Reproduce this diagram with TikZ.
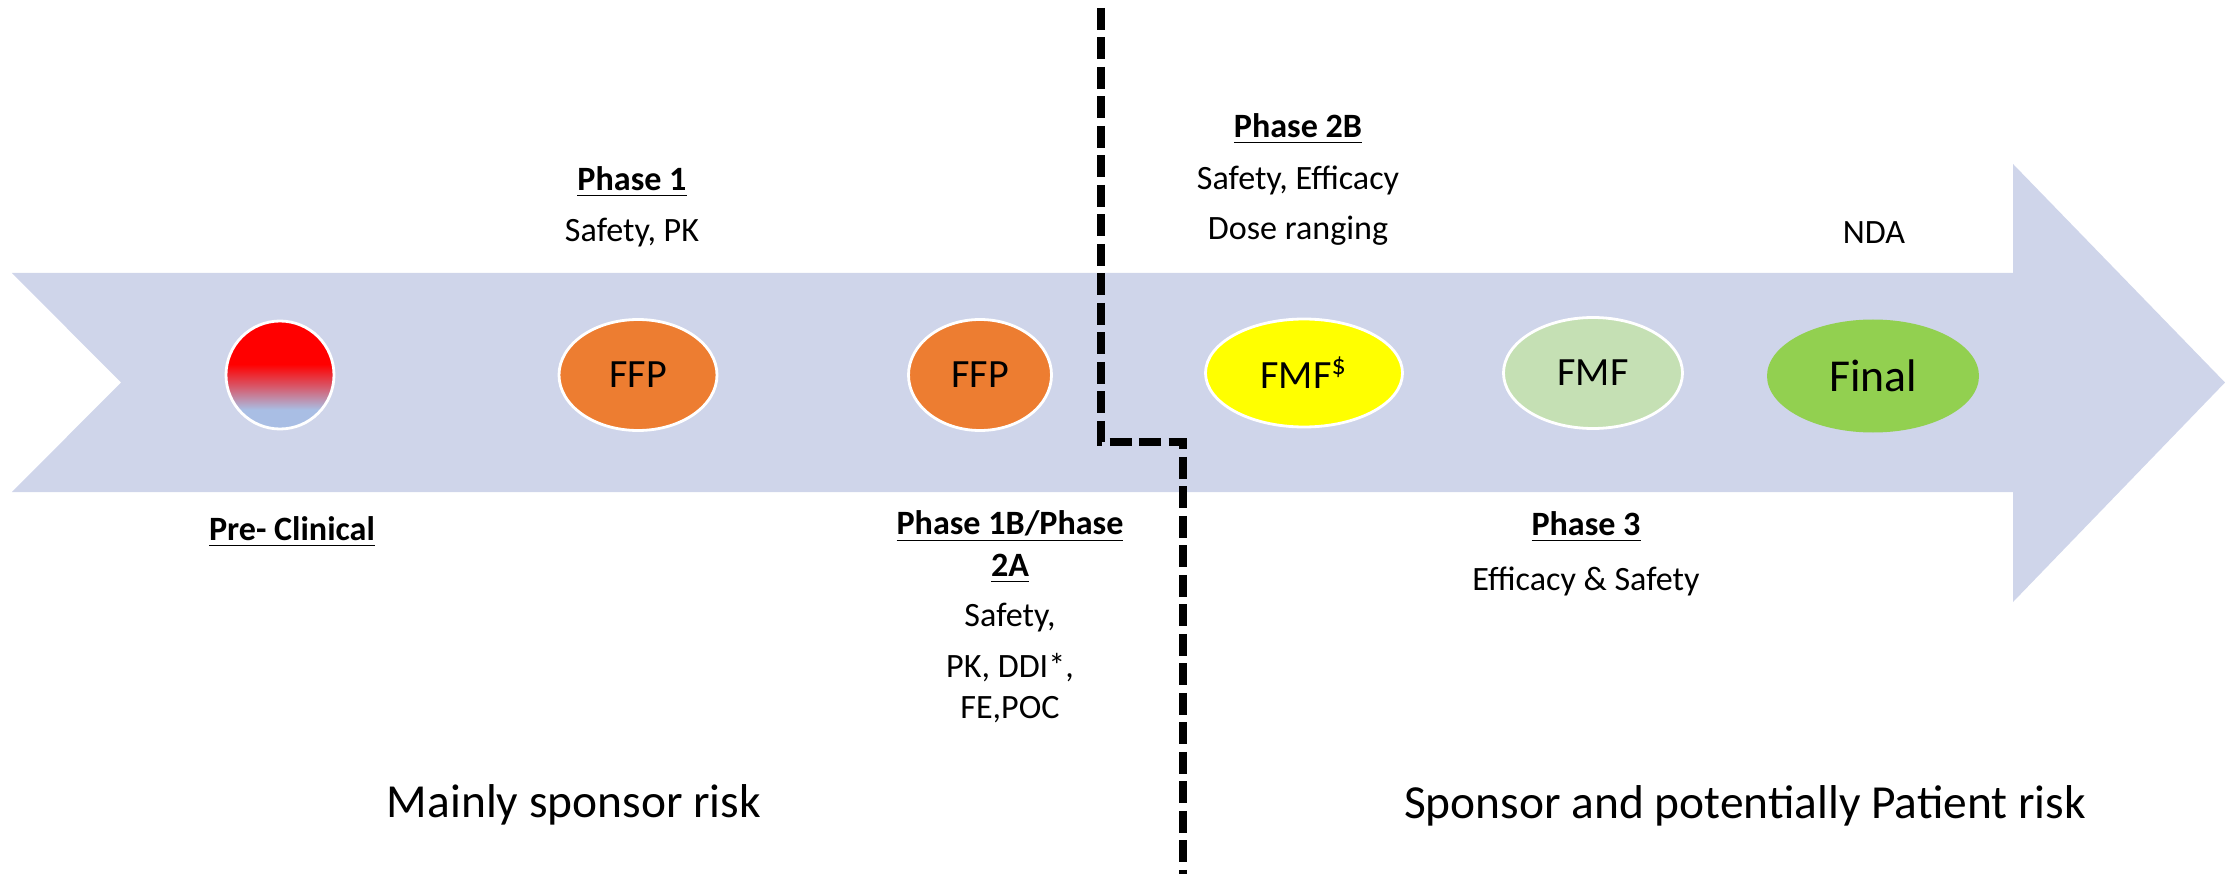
\documentclass[tikz,border=0pt]{standalone}
\usepackage{fontspec}
\setmainfont{Carlito}
\usepackage{xcolor}
\usetikzlibrary{shapes.geometric}

\definecolor{bandblue}{HTML}{CFD5EA}
\definecolor{ffporange}{HTML}{ED7D31}
\definecolor{fmfyellow}{HTML}{FFFF00}
\definecolor{fmfgreen}{HTML}{C5E0B4}
\definecolor{finalgreen}{HTML}{92D050}
\definecolor{preblue}{HTML}{A9BEE4}
\pgfdeclareverticalshading{preclin}{100bp}{color(0bp)=(preblue); color(34bp)=(preblue); color(45bp)=(red!55!preblue); color(55bp)=(red); color(100bp)=(red)}

\begin{document}
\begin{tikzpicture}[
    stage/.style={ellipse, draw=white, line width=0.8pt, inner sep=0pt, minimum height=1.11cm, font=\fontsize{11.4}{13}\selectfont},
    phase/.style={inner sep=0pt, align=center, font=\fontsize{9.7}{11.6}\selectfont},
    risk/.style={inner sep=0pt, font=\fontsize{13.5}{16}\selectfont},
    divider/.style={line width=0.076cm, dash pattern=on 0.22cm off 0.075cm}
]
\useasboundingbox (0,0) rectangle (22.25,8.74);
% timeline arrow
\fill[bandblue] (0.12,6.01) -- (20.13,6.01) -- (20.13,7.10) -- (22.25,4.915)
    -- (20.13,2.72) -- (20.13,3.82) -- (0.12,3.82) -- (1.21,4.915) -- cycle;
% stages
\node[circle, minimum size=1.08cm, inner sep=0pt, draw=white, line width=0.8pt, shade, shading=preclin] (pre) at (2.80,4.99) {};
\node[stage, fill=ffporange, minimum width=1.58cm] (ffpa) at (6.38,4.99) {FFP};
\node[stage, fill=ffporange, minimum width=1.43cm] (ffpb) at (9.80,4.99) {FFP};
\node[stage, fill=fmfyellow, minimum width=1.97cm, minimum height=1.08cm] (fmfs) at (13.04,5.01) {FMF\textsuperscript{\$}};
\node[stage, fill=fmfgreen, minimum width=1.79cm] (fmf) at (15.93,5.01) {FMF};
\node[stage, draw=none, fill=finalgreen, minimum width=2.12cm, minimum height=1.13cm, font=\fontsize{13}{15}\selectfont] (final) at (18.73,4.98) {Final};
% labels above
\node[phase] (ph1) at (6.32,6.92) {\underline{\textbf{Phase 1}}};
\node[phase] (ph1txt) at (6.32,6.41) {Safety, PK};
\node[phase] (ph2b) at (12.98,7.45) {\underline{\textbf{Phase 2B}}};
\node[phase] (ph2btxt) at (12.98,6.94) {Safety, Efficacy};
\node[phase] (ph2bdose) at (12.98,6.43) {Dose ranging};
\node[phase] (nda) at (18.74,6.41) {NDA};
% labels below
\node[phase] (prelab) at (2.92,3.42) {\underline{\textbf{Pre- Clinical}}};
\node[phase] (ph1b) at (10.10,3.27) {\underline{\textbf{Phase 1B/Phase}}\\[0.02cm]\underline{\textbf{2A}}};
\node[phase] (ph1btxt) at (10.10,2.56) {Safety,};
\node[phase] (ph1bpk) at (10.10,1.86) {PK, DDI*,\\FE,POC};
\node[phase] (ph3) at (15.86,3.47) {\underline{\textbf{Phase 3}}};
\node[phase] (ph3txt) at (15.86,2.93) {Efficacy \& Safety};
% risk split
\node[risk] (sponsor) at (5.74,0.69) {Mainly sponsor risk};
\node[risk] (patient) at (17.45,0.68) {Sponsor and potentially Patient risk};
\draw[divider] (11.01,8.66) |- (11.83,4.32) -- (11.83,0);
\end{tikzpicture}
\end{document}
